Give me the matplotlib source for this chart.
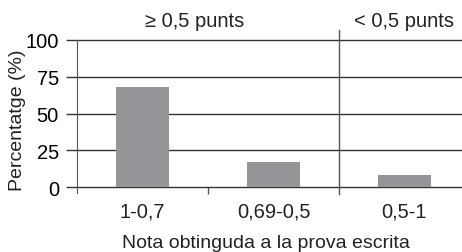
import matplotlib.pyplot as plt

categories = ['1-0,7', '0,69-0,5', '0,5-1']
percent = [68, 17, 8]
yticks = [0, 25, 50, 75, 100]
group_labels = ['\u2265 0,5 punts', '< 0,5 punts']

plt.rcParams['font.family'] = ['Liberation Sans', 'DejaVu Sans']

fig = plt.figure(figsize=(4.62, 2.53), dpi=100)
ax = fig.add_axes([77 / 462, 1 - 188 / 253, (470 - 77) / 462, (188 - 41) / 253])

x = range(len(categories))
ax.bar(x, percent, width=0.41, color='#939598', zorder=3)

ax.set_xlim(-0.5, 2.5)
ax.set_ylim(0, 100)
ax.set_yticks(yticks)
ax.set_xticks([0.5])
ax.set_xticklabels([''])
ax.tick_params(axis='x', length=5, color='#555555', width=1)
ax.tick_params(axis='y', length=8, color='#333333', width=1, labelsize=14.5, pad=5)

for t in yticks:
    ax.axhline(t, color='#333333', lw=1, zorder=2, clip_on=False)

for s in ['top', 'right', 'bottom']:
    ax.spines[s].set_visible(False)
ax.spines['left'].set_color('#555555')
ax.spines['left'].set_bounds(-4, 100)

# category labels
for i, c in enumerate(categories):
    ax.text(i, -16.3, c, ha='center', va='center', fontsize=14.5, color='#222222')

# divider between groups
ax.plot([1.5, 1.5], [-5, 107], color='#555555', lw=1, clip_on=False)

ax.text(0.40, 113, group_labels[0], ha='center', va='center', fontsize=14.5, color='#222222')
ax.text(2.0, 113, group_labels[1], ha='center', va='center', fontsize=14.5, color='#222222')

fig.text(18 / 462, 1 - 120 / 253, 'Percentatge (%)', rotation=90, ha='center', va='center',
         fontsize=14, color='#222222')
fig.text(266 / 462, 1 - 244 / 253, 'Nota obtinguda a la prova escrita', ha='center', va='center',
         fontsize=14, color='#222222')

fig.savefig('out.png', dpi=100)
